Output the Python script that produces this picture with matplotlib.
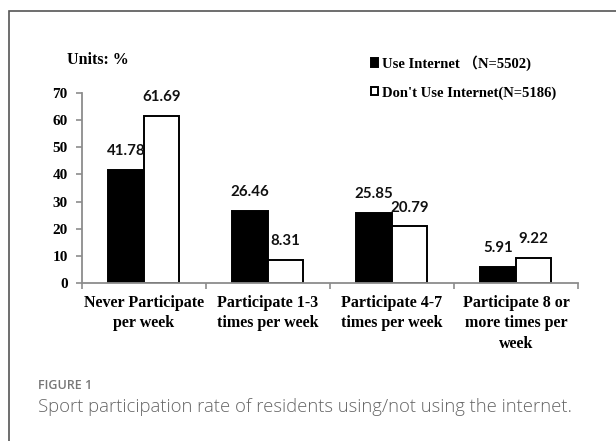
import matplotlib

matplotlib.use("Agg")
import matplotlib.pyplot as plt
from matplotlib.patches import Rectangle
from matplotlib.font_manager import FontProperties

categories = ["Never Participate\nper week", "Participate 1-3\ntimes per week",
              "Participate 4-7\ntimes per week", "Participate 8 or\nmore times per\nweek"]
use_internet = [41.78, 26.46, 25.85, 5.91]
no_internet = [61.69, 8.31, 20.79, 9.22]
series_names = ["Use Internet \uff08N=5502)", "Don't Use Internet(N=5186)"]
yticks = [0, 10, 20, 30, 40, 50, 60, 70]

SERIF = "Liberation Serif"
W, H = 616, 441

fig = plt.figure(figsize=(W / 100, H / 100), dpi=100)
ax = fig.add_axes([81.7 / W, 1 - 282.7 / H, (578 - 81.7) / W, (282.7 - 93.3) / H])

x = list(range(len(categories)))
bw = 0.286
b1 = ax.bar([i - bw / 2 for i in x], use_internet, bw, color="black",
            edgecolor="black", linewidth=1.4, label=series_names[0])
b2 = ax.bar([i + bw / 2 for i in x], no_internet, bw, color="white",
            edgecolor="black", linewidth=1.4, label=series_names[1])

# value labels above every bar
for bars, vals in ((b1, use_internet), (b2, no_internet)):
    for r, v in zip(bars, vals):
        ax.annotate(f"{v:.2f}", (r.get_x() + r.get_width() / 2, v),
                    xytext=(0, 8.5), textcoords="offset points",
                    ha="center", va="bottom", fontsize=10.8,
                    family="Lato", weight="bold", color="#111111")

ax.set_xlim(-0.5, len(categories) - 0.5)
ax.set_ylim(0, 70)
ax.set_yticks(yticks)
ax.set_yticklabels([str(t) for t in yticks], family=SERIF, weight="bold", fontsize=11)
ax.set_xticks(x)
ax.set_xticklabels(categories, family=SERIF, weight="bold", fontsize=11.5,
                   linespacing=1.35)
ax.set_xticks([i - 0.5 for i in range(len(categories) + 1)], minor=True)
ax.tick_params(axis="x", which="major", length=0, pad=9)
ax.tick_params(axis="x", which="minor", length=4, width=1.2, color="#8c8c8c")
ax.tick_params(axis="y", length=4, width=1.2, color="#8c8c8c", pad=6)
for s in ("top", "right"):
    ax.spines[s].set_visible(False)
for s in ("left", "bottom"):
    ax.spines[s].set_color("#8c8c8c")
    ax.spines[s].set_linewidth(1.3)

fig.text(67 / W, 1 - 64 / H, "Units: %", family=SERIF, weight="bold",
         fontsize=11.5, va="baseline")

leg_font = FontProperties(family=[SERIF, "Noto Sans CJK SC"], weight="bold", size=10.5)
ax.legend(handles=[b1, b2], loc="upper left", bbox_to_anchor=(371 / W, 1 - 55 / H),
          bbox_transform=fig.transFigure, frameon=False, prop=leg_font,
          handlelength=0.5, handleheight=0.5, handletextpad=0.25,
          labelspacing=1.05, borderpad=0, borderaxespad=0)

fig.text(38 / W, 1 - 389 / H, "FIGURE 1", family="Open Sans", weight="semibold",
         fontsize=9, color="#777777", va="baseline")
fig.text(38 / W, 1 - 412 / H,
         "Sport participation rate of residents using/not using the internet.",
         family="Open Sans", weight="light", fontsize=13.3, color="#666666",
         va="baseline")

# card border (only top and left edges fall inside the crop)
fig.patches.append(Rectangle((9 / W, -0.1), 1.2, 1.1 - 11 / H, transform=fig.transFigure,
                             fill=False, edgecolor="#555555", linewidth=1.2))

fig.savefig("out.png", dpi=100)
